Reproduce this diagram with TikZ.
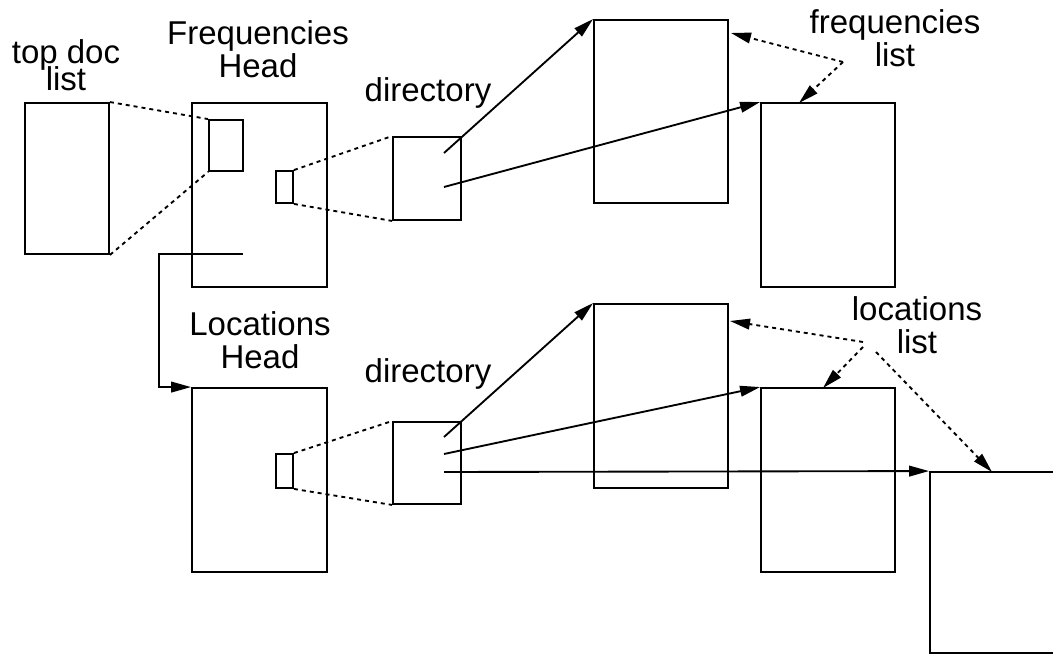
\documentclass[tikz,border=0pt]{standalone}
\usepackage{fontspec}
\setmainfont{Liberation Sans}
\usetikzlibrary{fit,arrows.meta}
\begin{document}
\begin{tikzpicture}[x=0.75pt,y=-0.75pt,
  line width=1.4pt,
  box/.style={draw,rectangle,inner sep=0pt,line width=1.4pt},
  dline/.style={dash pattern=on 3pt off 3pt,line width=1.4pt},
  arr/.style={-{Triangle[length=15pt,width=8pt]}},
  lbl/.style={align=center,inner sep=0pt,anchor=base,font=\fontsize{24.75}{24.75}\selectfont}]
\useasboundingbox (0,0) rectangle (1053,655);
\clip (0,0) rectangle (1053,655);
% boxes
\node[box,fit={(25,103) (109,254)}] (tdl) {};
\node[box,fit={(192,103) (327,287)}] (fhead) {};
\node[box,fit={(209,120) (243,171)}] (fptr) {};
\node[box,fit={(276,171) (293,203)}] (fsmall) {};
\node[box,fit={(393,137) (461,220)}] (fdir) {};
\node[box,fit={(594,20) (728,203)}] (fbox1) {};
\node[box,fit={(761,103) (895,287)}] (fbox2) {};
\node[box,fit={(192,388) (327,572)}] (lhead) {};
\node[box,fit={(276,454) (293,488)}] (lsmall) {};
\node[box,fit={(393,422) (461,504)}] (ldir) {};
\node[box,fit={(594,304) (728,488)}] (lbox1) {};
\node[box,fit={(761,388) (895,572)}] (lbox2) {};
\node[box,fit={(930,472) (1120,653)}] (lbox3) {};
% labels
\node[lbl] (tdltxt) at (66,91) {top doc\\[-4.5pt]list};
\node[lbl] (fheadtxt) at (258,78) {Frequencies\\Head};
\node[lbl] (fdirtxt) at (428,102) {directory};
\node[lbl] (flisttxt) at (895,67) {frequencies\\list};
\node[lbl] (lheadtxt) at (260,369) {Locations\\Head};
\node[lbl] (ldirtxt) at (428,383) {directory};
\node[lbl] (llisttxt) at (917,354) {locations\\list};
% coordinates
\coordinate (fd1) at (444,153);
\coordinate (fd2) at (444,187);
\coordinate (fnext) at (243,254);
\coordinate (fl) at (843,62);
\coordinate (ld1) at (444,437);
\coordinate (ld2) at (444,454);
\coordinate (ld3) at (444,472);
\coordinate (ll1) at (863,342);
\coordinate (ll2) at (863,347);
\coordinate (ll3) at (876,352);
% dotted zoom lines
\draw[dline] (tdl.north east) -- (fptr.north west);
\draw[dline] (tdl.south east) -- (fptr.south west);
\draw[dline] (fsmall.north east) -- (fdir.north west);
\draw[dline] (fsmall.south east) -- (fdir.south west);
\draw[dline] (lsmall.north east) -- (ldir.north west);
\draw[dline] (lsmall.south east) -- (ldir.south west);
% pointers
\draw[arr] (fd1) -- (fbox1.north west);
\draw[arr] (fd2) -- (fbox2.north west);
\draw[arr] (fnext) -- (159,254) |- (lhead.north west);
\draw[arr] (ld1) -- (lbox1.north west);
\draw[arr] (ld2) -- (lbox2.north west);
\draw[arr] (ld3) -- (lbox3.north west);
% list label arrows
\draw[dline,arr] (fl) -- (731,33);
\draw[dline,arr] (fl) -- (799,103);
\draw[dline,arr] (ll1) -- (730,321);
\draw[dline,arr] (ll2) -- (823,388);
\draw[dline,arr] (ll3) -- (992,472);
\end{tikzpicture}
\end{document}
